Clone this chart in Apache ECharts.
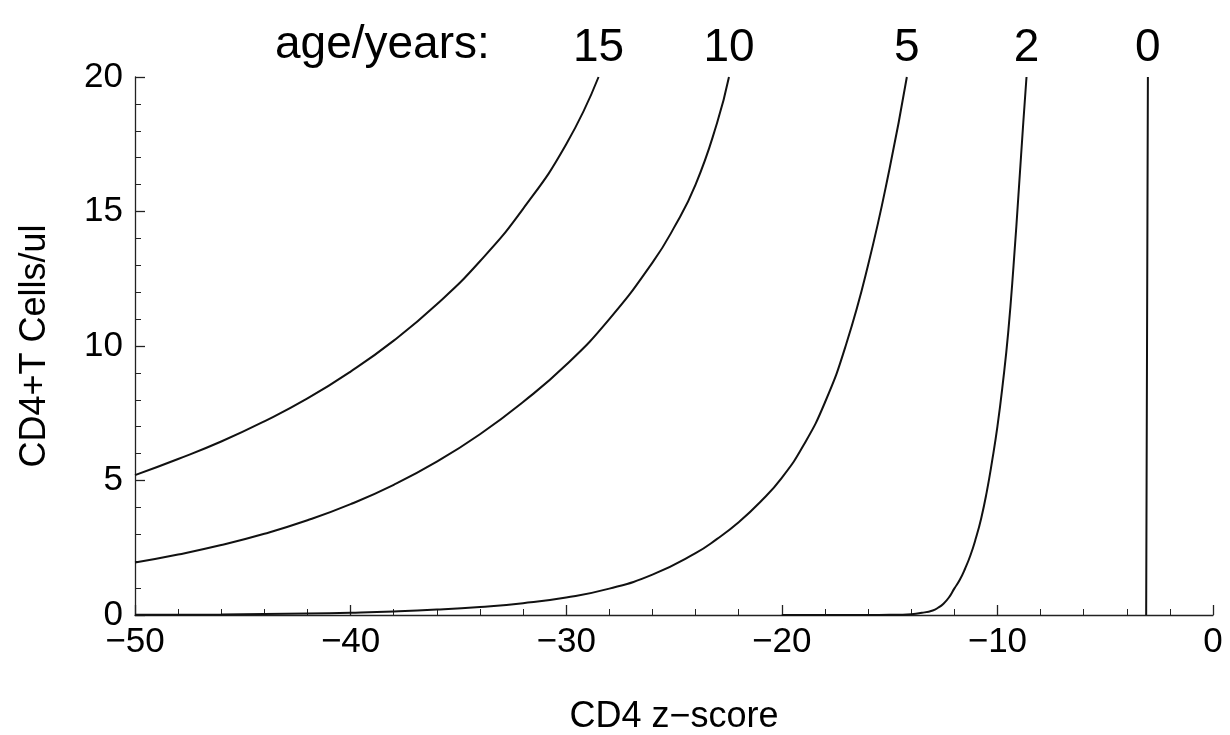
<!DOCTYPE html>
<html><head><meta charset="utf-8">
<script src="https://cdn.jsdelivr.net/npm/echarts@6/dist/echarts.min.js"></script>
<style>html,body{margin:0;padding:0;background:#fff}#c{width:1230px;height:735px}</style>
</head><body><div id="c"></div>
<script>
// ---- data ----
const ages = ['15', '10', '5', '2', '0'];
const curve15 = [[-50,5.2],[-48,5.8],[-46,6.45],[-44,7.2],[-42,8.05],[-40,9.05],[-38,10.2],[-36,11.55],[-34,13.15],[-32,15.1],[-30,17.5],[-28.5,20]];
const curve10 = [[-50,1.95],[-48,2.25],[-46,2.6],[-44,3.02],[-42,3.52],[-40,4.12],[-38,4.84],[-36,5.7],[-34,6.72],[-32,7.92],[-30,9.3],[-28,11.0],[-26,13.1],[-25,14.4],[-24,16.0],[-23,18.3],[-22.45,20]];
const curve5 = [[-50,0.008],[-46,0.022],[-42,0.055],[-40,0.085],[-38,0.13],[-36,0.2],[-34,0.3],[-32,0.44],[-30,0.65],[-28,0.98],[-26,1.5],[-24,2.3],[-23,2.83],[-22,3.45],[-21,4.2],[-20,5.1],[-19,6.3],[-18,7.9],[-17,10.1],[-16,13.0],[-15,16.6],[-14.2,20]];
const curve2 = [[-20,0],[-16,0],[-15,0.005],[-14,0.03],[-13.5,0.08],[-13,0.17],[-12.75,0.27],[-12.5,0.42],[-12.25,0.65],[-12,0.98],[-11.75,1.3],[-11.5,1.72],[-11.25,2.22],[-11,2.85],[-10.75,3.6],[-10.5,4.55],[-10.25,5.7],[-10,7.0],[-9.75,8.6],[-9.5,10.5],[-9.25,13.0],[-9,15.9],[-8.8,18.3],[-8.65,20]];
const curve0 = [[-3.1,0],[-3.08,5],[-3.06,10],[-3.04,15],[-3.02,20]];
const xTicks = [-50, -40, -30, -20, -10, 0];
const yTicks = [0, 5, 10, 15, 20];
const ageCaption = 'age/years:';
const xTitle = 'CD4 z\u2212score';
const yTitle = 'CD4+T Cells/ul';

// ---- chart ----
const curves = [curve15, curve10, curve5, curve2, curve0];
const FONT = '"Liberation Sans", Arial, Helvetica, sans-serif';
const AX = '#222';
const chart = echarts.init(document.getElementById('c'), null, {renderer: 'canvas'});

const lineSeries = curves.map((c, i) => ({
  type: 'line', name: ages[i], data: c, showSymbol: false, smooth: 0.5,
  lineStyle: {color: '#111', width: 2}, z: 3
}));
const labelSeries = {
  type: 'scatter', symbolSize: 0, silent: true,
  itemStyle: {opacity: 1},
  data: curves.map((c, i) => ({value: c[c.length - 1], name: ages[i]})),
  label: {show: true, position: 'top', distance: 6, formatter: '{b}', fontSize: 46, fontFamily: FONT, color: '#000', opacity: 1}
};

const axisCommon = {
  type: 'value',
  axisLine: {show: true, onZero: false, lineStyle: {color: AX, width: 1.3}},
  axisTick: {show: true, inside: true, length: 10, lineStyle: {color: AX, width: 1.3}},
  minorTick: {show: true, splitNumber: 5, length: 6, lineStyle: {color: AX, width: 1}},
  splitLine: {show: false},
  nameLocation: 'middle',
  nameTextStyle: {fontSize: 36, color: '#000', fontFamily: FONT}
};

chart.setOption({
  animation: false,
  backgroundColor: '#fff',
  grid: {left: 135, right: 17, top: 77, bottom: 120, containLabel: false, outerBoundsMode: 'none'},
  xAxis: Object.assign({}, axisCommon, {
    min: xTicks[0], max: xTicks[xTicks.length - 1], interval: xTicks[1] - xTicks[0],
    name: xTitle, nameGap: 84,
    axisLabel: {fontSize: 35, color: '#000', fontFamily: FONT, margin: 10,
      formatter: v => String(v).replace('-', '\u2212')}
  }),
  yAxis: Object.assign({}, axisCommon, {
    min: yTicks[0], max: yTicks[yTicks.length - 1], interval: yTicks[1] - yTicks[0],
    name: yTitle, nameGap: 82, nameRotate: 90,
    axisLabel: {fontSize: 35, color: '#000', fontFamily: FONT, margin: 12}
  }),
  graphic: [{
    type: 'text', left: 275, top: 22,
    style: {text: ageCaption, fontSize: 46, fontFamily: FONT, fill: '#000'}
  }],
  series: lineSeries.concat([labelSeries])
});
</script>
</body></html>
